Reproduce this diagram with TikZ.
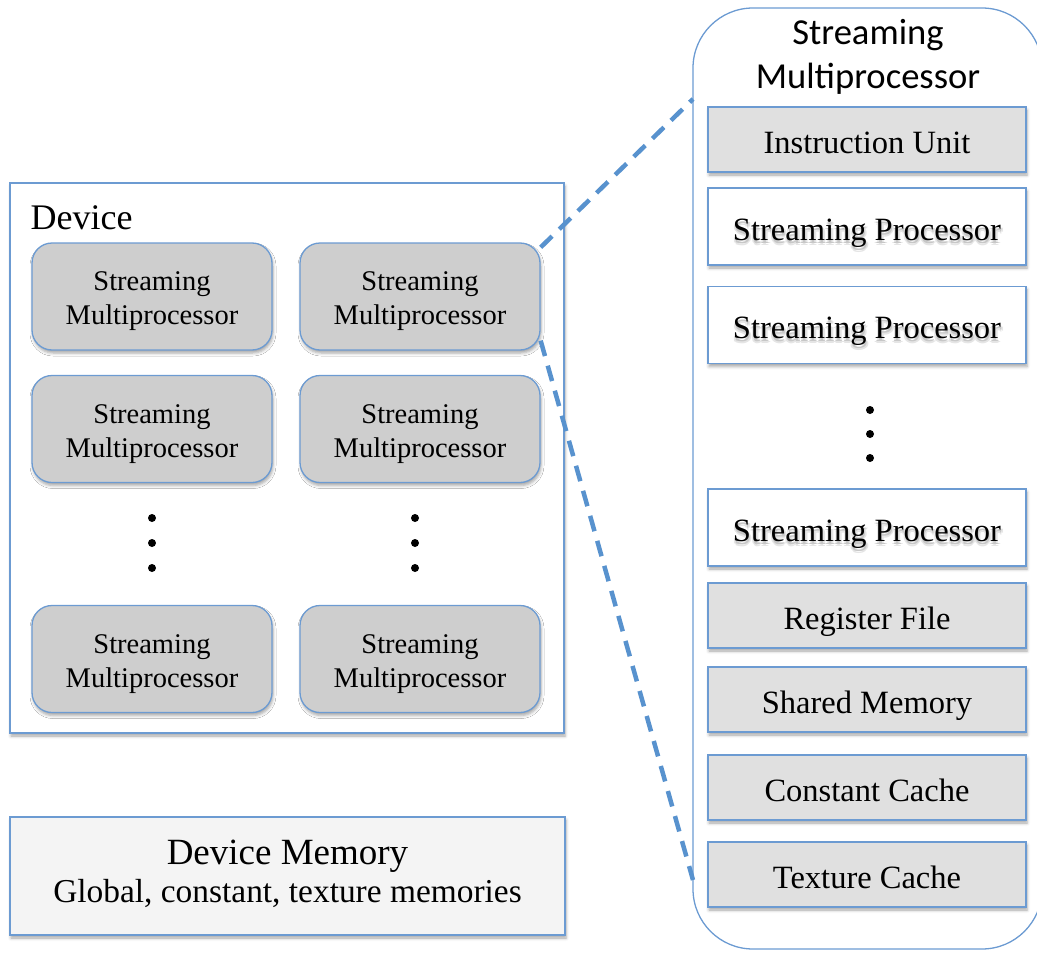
\documentclass[tikz,border=0pt]{standalone}
\usepackage{fontspec}
\setmainfont{Liberation Serif}
\newfontfamily\titlefont{Carlito}
\usetikzlibrary{shadows.blur}

\definecolor{edgeblue}{RGB}{108,155,210}
\definecolor{linkblue}{RGB}{88,146,206}
\definecolor{smgray}{RGB}{206,206,206}
\definecolor{unitgray}{RGB}{224,224,224}
\definecolor{memgray}{RGB}{244,244,244}

% text with a soft grey shadow below it
\newcommand{\shadowtext}[1]{%
  \makebox[0pt][l]{\color{black!10}\kern-1pt\raisebox{-3.5pt}{#1}}%
  \makebox[0pt][l]{\color{black!10}\kern2.5pt\raisebox{-3.5pt}{#1}}%
  \makebox[0pt][l]{\color{black!10}\kern0.7pt\raisebox{-5pt}{#1}}%
  \makebox[0pt][l]{\color{black!22}\kern0.7pt\raisebox{-3pt}{#1}}%
  #1}

\tikzset{
  softshadow/.style={blur shadow={shadow xshift=1pt, shadow yshift=-3pt,
      shadow blur radius=3pt, shadow opacity=35}},
  smbox/.style={draw=edgeblue, line width=1.3pt, fill=smgray, rounded corners=20pt,
      minimum width=240pt, minimum height=107pt, softshadow},
  smtext/.style={anchor=base, align=center, inner sep=0pt,
      font=\fontsize{28.5}{34}\selectfont},
  partlabel/.style={text height=27pt, text depth=0pt, inner sep=0pt,
      font=\fontsize{32.5}{38}\selectfont},
  unitbox/.style={draw=edgeblue, line width=1.3pt, fill=unitgray,
      minimum width=318pt, minimum height=65pt, softshadow, partlabel},
  spbox/.style={draw=edgeblue, line width=1.3pt, fill=white,
      minimum width=318pt, minimum height=77pt, softshadow, partlabel},
  framebox/.style={draw=edgeblue, line width=1.3pt, fill=white, softshadow},
  dotmark/.style={circle, fill=black, inner sep=0pt, minimum size=8pt},
  zoomline/.style={draw=linkblue, line width=4.5pt, dash pattern=on 16pt off 10pt},
}

\begin{document}
\begin{tikzpicture}[x=1pt, y=-1pt]
\useasboundingbox (0,0) rectangle (1037,953);

% ---- device with its multiprocessors ----
\node[framebox, minimum width=554pt, minimum height=550pt] (device) at (287,458) {};
\node[anchor=base west, font=\fontsize{36}{40}\selectfont] (devlabel) at (27,229) {Device};

\foreach \n/\x/\y in {sm11/152/296.5, sm12/420/296.5, sm21/152/429,
                      sm22/420/429, sm31/152/659, sm32/420/659} {
  \node[smbox] (\n) at (\x,\y) {};
  \node[smtext] (\n-text) at ([yshift=-28pt]\n.center) {Streaming\\Multiprocessor};
}

\foreach \y [count=\i] in {518,543,568} {
  \node[dotmark] (ldot\i) at (152,\y) {};
  \node[dotmark] (rdot\i) at (415,\y) {};
}

% ---- device memory ----
\node[framebox, fill=memgray, minimum width=555pt, minimum height=118pt] (devmem) at (287.5,876) {};
\node[anchor=base, font=\fontsize{37}{40}\selectfont] (memtitle) at (287.5,864) {Device Memory};
\node[anchor=base, font=\fontsize{33.4}{38}\selectfont] (memsub) at (287.5,902) {Global, constant, texture memories};

% ---- one multiprocessor in detail ----
\draw[draw=edgeblue, line width=1.3pt, rounded corners=60pt]
  (693,8) rectangle (1042,949);
\node[anchor=base, font=\titlefont\fontsize{36.6}{40}\selectfont] (smtitle1) at (868,45) {Streaming};
\node[anchor=base, font=\titlefont\fontsize{36.6}{40}\selectfont] (smtitle2) at (868,88) {Multiprocessor};

\node[unitbox] (iu)  at (867,139.5) {Instruction Unit};
\node[spbox]   (sp1) at (867,226.5) {\shadowtext{Streaming Processor}};
\node[spbox]   (sp2) at (867,325)   {\shadowtext{Streaming Processor}};
\node[spbox]   (sp3) at (867,527.5) {\shadowtext{Streaming Processor}};
\node[unitbox] (rf)  at (867,615.5) {Register File};
\node[unitbox] (shm) at (867,699.5) {Shared Memory};
\node[unitbox] (cc)  at (867,787.5) {Constant Cache};
\node[unitbox] (tc)  at (867,874.5) {Texture Cache};

\foreach \y [count=\i] in {410,434,458} {
  \node[dotmark] (sdot\i) at (870,\y) {};
}

% ---- zoom connectors ----
\coordinate (zoomtop) at (693,99);
\coordinate (zoombot) at (693,880);
\draw[zoomline] ([yshift=-5pt]sm12.north east) -- (zoomtop);
\draw[zoomline] ([yshift=10pt]sm12.south east) -- (zoombot);
\end{tikzpicture}
\end{document}
